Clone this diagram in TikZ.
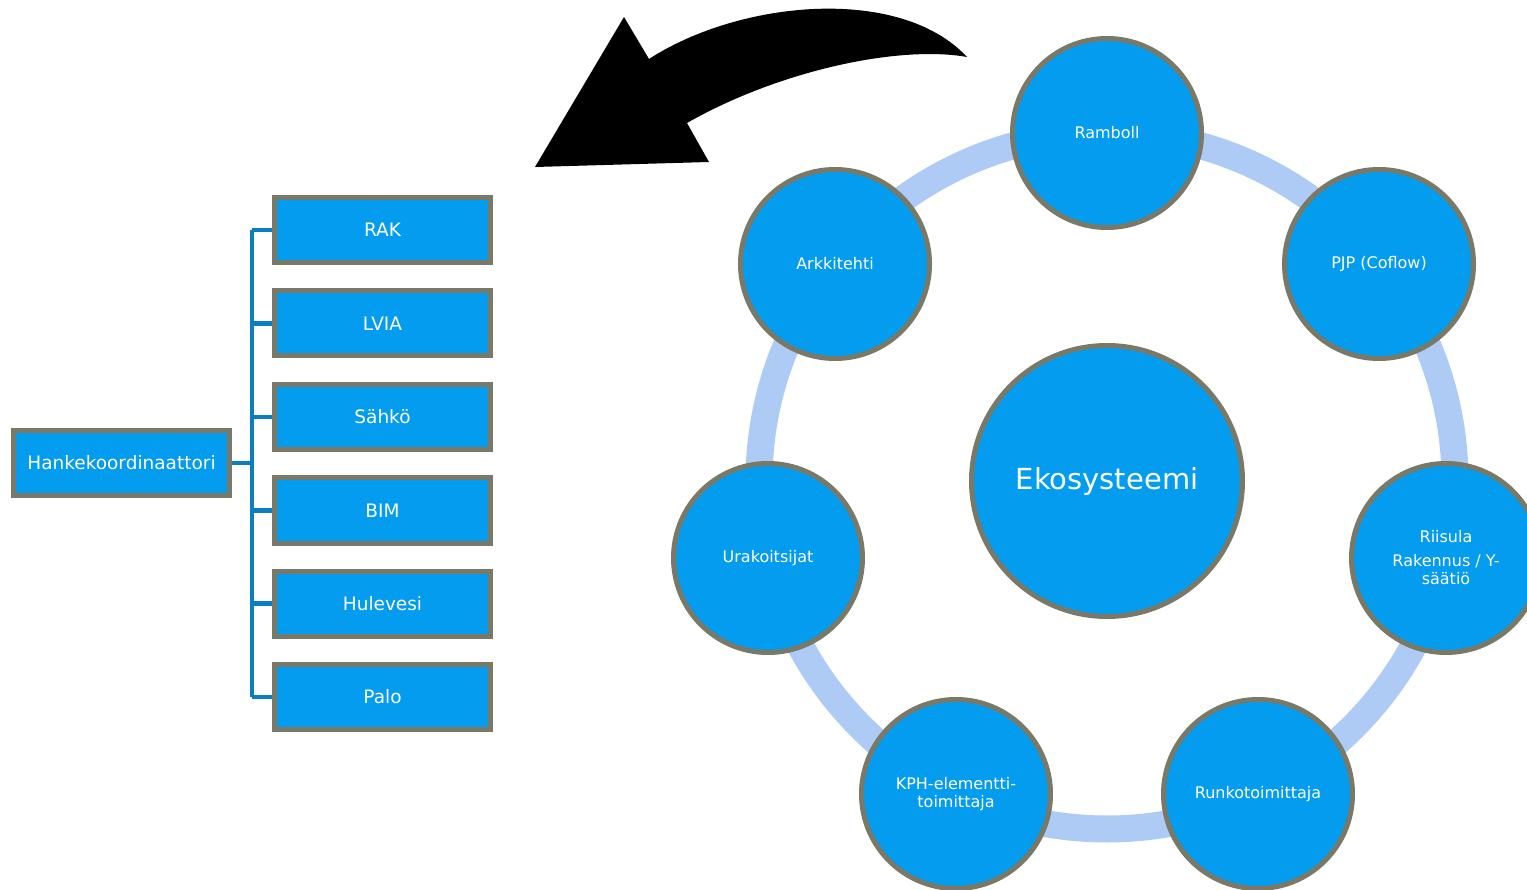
\documentclass[tikz,border=0pt]{standalone}
\usepackage{fontspec}
\setmainfont{DejaVu Sans}
\definecolor{cfill}{HTML}{039CEE}
\definecolor{cborder}{HTML}{7A7866}
\definecolor{cconn}{HTML}{0B7DC1}
\definecolor{cring}{HTML}{ADCBF5}
\begin{document}
\begin{tikzpicture}[x=1pt,y=-1pt,
  boxnode/.style={draw=cborder,line width=5pt,fill=cfill,text=white,
    minimum width=216pt,minimum height=65pt,inner sep=0pt,
    font=\fontsize{18.5}{22}\selectfont},
  circnode/.style={circle,draw=cborder,line width=5pt,fill=cfill,text=white,
    minimum size=189pt,inner sep=0pt,align=center,
    font=\fontsize{16}{18}\selectfont},
  bigcirc/.style={circle,draw=cborder,line width=5pt,fill=cfill,text=white,
    minimum size=271pt,inner sep=0pt,
    font=\fontsize{29}{34}\selectfont},
  conn/.style={draw=cconn,line width=4.5pt}]
\useasboundingbox (0,0) rectangle (1527,890);
% left tree
\node[boxnode,minimum width=216pt] (hk) at (121.5,463) {Hankekoordinaattori};
\node[boxnode] (b1) at (382.5,230) {RAK};
\node[boxnode] (b2) at (382.5,323.5) {LVIA};
\node[boxnode] (b3) at (382.5,417) {Sähkö};
\node[boxnode] (b4) at (382.5,510.5) {BIM};
\node[boxnode] (b5) at (382.5,603.5) {Hulevesi};
\node[boxnode] (b6) at (382.5,697) {Palo};
\coordinate (spine) at (252,463);
\draw[conn] (spine |- b1.west) -- (spine |- b6.west);
\draw[conn] (hk.east) -- (spine |- hk.east);
\foreach \b in {b1,b2,b3,b4,b5,b6}{
  \draw[conn] (spine |- \b.west) -- (\b.west);
}
% ring
\coordinate (ctr) at (1107,481);
\draw[cring,line width=27pt] (ctr) circle[radius=348pt];
\node[bigcirc] (eko) at (ctr) {Ekosysteemi};
\node[circnode] (c0) at (1107,133) {Ramboll};
\node[circnode] (c1) at (1379,264) {PJP (Coflow)};
\node[circnode] (c2) at (1446,558) {Riisula\\[6pt]Rakennus / Y-\\säätiö};
\node[circnode] (c3) at (1258,794) {Runkotoimittaja};
\node[circnode] (c4) at (956,794) {KPH-elementti-\\toimittaja};
\node[circnode] (c5) at (768,558) {Urakoitsijat};
\node[circnode] (c6) at (835,264) {Arkkitehti};
% curved arrow
\fill[black] (535,167) -- (624,17) -- (649,59)
  .. controls (740,0) and (900,-15) .. (967,57)
  .. controls (900,45) and (780,70) .. (687,123)
  -- (709,162) -- cycle;
\end{tikzpicture}
\end{document}
